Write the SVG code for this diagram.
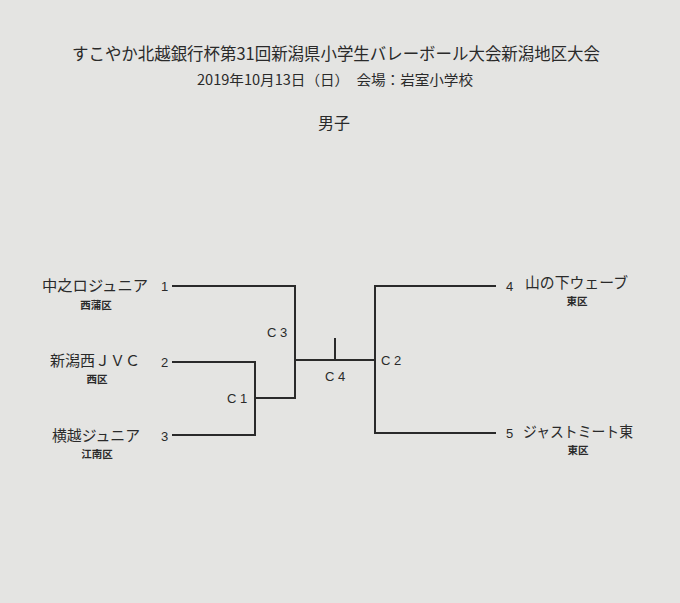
<svg xmlns="http://www.w3.org/2000/svg" width="680" height="603" viewBox="0 0 680 603">
<style>
text{fill:#2a2a2a;font-family:"Noto Sans CJK JP","Noto Sans CJK SC",sans-serif}
.title{font-size:17px}
.date{font-size:14px}
.head{font-size:16px}
.team{font-size:15px}
.area{font-size:10.5px;font-weight:bold;text-anchor:middle}
.num{font-family:"Liberation Sans",sans-serif;font-size:13px}
.mlabel{font-family:"Liberation Sans",sans-serif;font-size:13px}
.wire{fill:none;stroke:#2a2a2a;stroke-width:2}
</style>
<rect width="680" height="603" fill="#e4e4e2"/>
<g id="header">
<text class="title" x="72" y="60" textLength="528" lengthAdjust="spacingAndGlyphs">すこやか北越銀行杯第31回新潟県小学生バレーボール大会新潟地区大会</text>
<text class="date" x="197" y="85" textLength="276" lengthAdjust="spacingAndGlyphs">2019年10月13日（日）　会場：岩室小学校</text>
<text class="head" x="318" y="129" textLength="32" lengthAdjust="spacingAndGlyphs">男子</text>
</g>
<g id="connectors">
<path class="wire" d="M172,286 H295 V398 H255"/>
<path class="wire" d="M172,362 H255 V435 H172"/>
<path class="wire" d="M295,360 H375"/>
<path class="wire" d="M335,338 V360"/>
<path class="wire" d="M496,286 H375 V433 H496"/>
</g>
<g id="team1">
<text class="team" x="42" y="291" textLength="106" lengthAdjust="spacingAndGlyphs">中之ロジュニア</text>
<text class="num" x="161" y="291">1</text>
<text class="area" x="96" y="309">西蒲区</text>
</g>
<g id="team2">
<text class="team" x="50" y="366" textLength="90" lengthAdjust="spacingAndGlyphs">新潟西ＪＶＣ</text>
<text class="num" x="161" y="367">2</text>
<text class="area" x="97" y="383">西区</text>
</g>
<g id="team3">
<text class="team" x="52" y="441" textLength="88" lengthAdjust="spacingAndGlyphs">横越ジュニア</text>
<text class="num" x="161" y="441">3</text>
<text class="area" x="97" y="458">江南区</text>
</g>
<g id="team4">
<text class="num" x="506" y="291">4</text>
<text class="team" x="525" y="288" textLength="103" lengthAdjust="spacingAndGlyphs">山の下ウェーブ</text>
<text class="area" x="577" y="305">東区</text>
</g>
<g id="team5">
<text class="num" x="506" y="438">5</text>
<text class="team" x="523" y="437" textLength="110" lengthAdjust="spacingAndGlyphs">ジャストミート東</text>
<text class="area" x="578" y="454">東区</text>
</g>
<g id="match-c1"><text class="mlabel" x="227" y="403">C 1</text></g>
<g id="match-c3"><text class="mlabel" x="267" y="337">C 3</text></g>
<g id="match-c4"><text class="mlabel" x="325" y="381">C 4</text></g>
<g id="match-c2"><text class="mlabel" x="381" y="365">C 2</text></g>
</svg>
